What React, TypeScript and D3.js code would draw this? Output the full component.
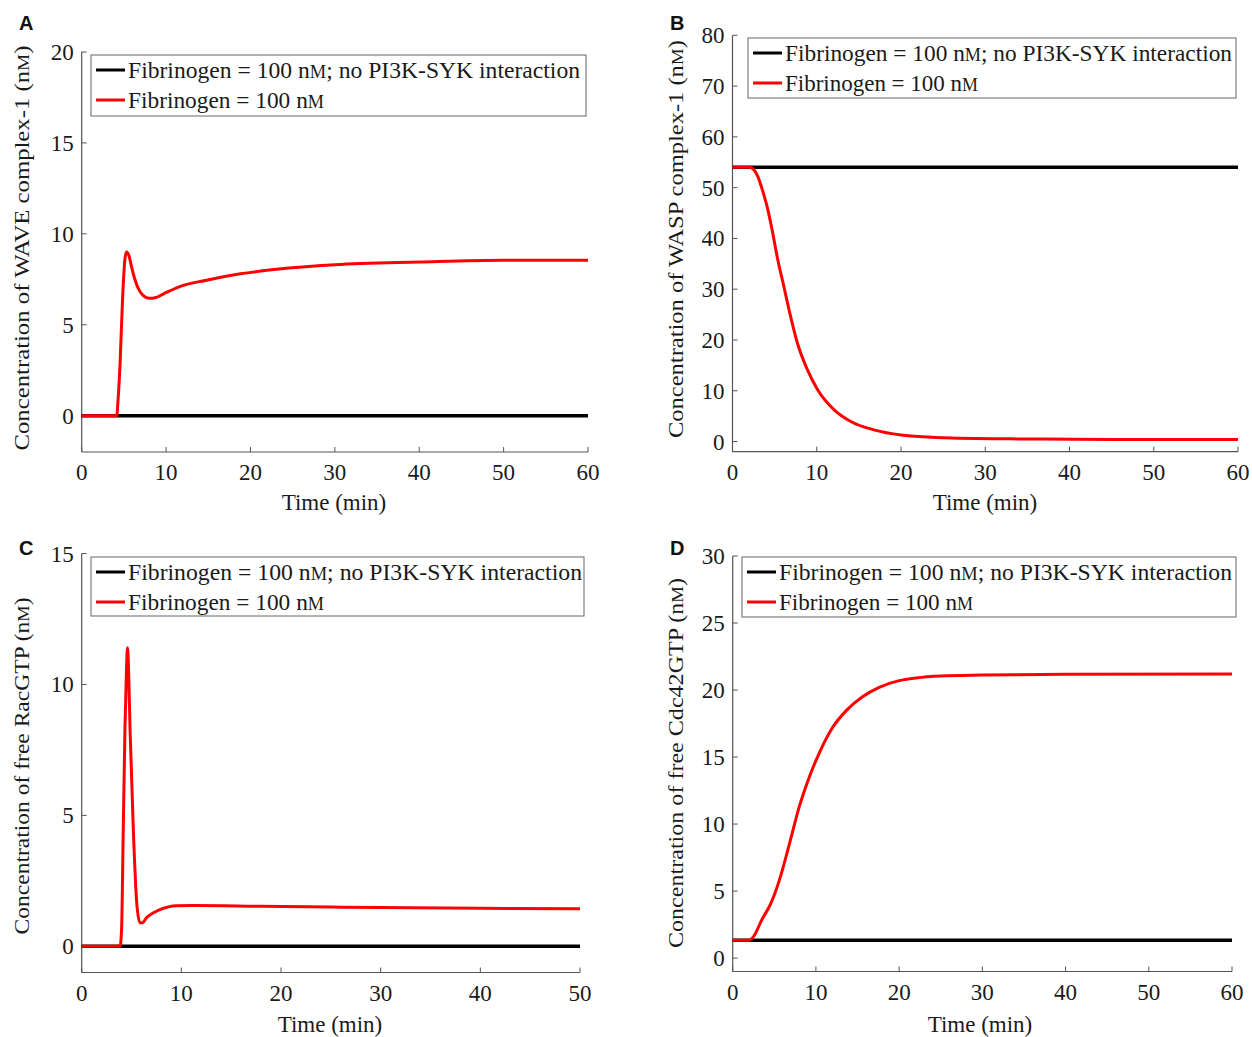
import React from "react";
import * as d3 from "d3";

// ---------- data ----------
const xTicks60 = [0, 10, 20, 30, 40, 50, 60];
const xTicks50 = [0, 10, 20, 30, 40, 50];
const yTicksA = [0, 5, 10, 15, 20];
const yTicksB = [0, 10, 20, 30, 40, 50, 60, 70, 80];
const yTicksC = [0, 5, 10, 15];
const yTicksD = [0, 5, 10, 15, 20, 25, 30];

const legendBlack = "Fibrinogen = 100 n";
const legendBlackTail = "; no PI3K-SYK interaction";
const legendRed = "Fibrinogen = 100 n";

// Panel A: WAVE complex-1
const blackTimeA = [0, 60];
const blackValA = [0, 0];
const redTimeA = [0, 4.15, 4.3, 4.55, 4.85, 5.1, 5.3, 5.6, 5.9, 6.3, 6.7, 7.3, 8.0, 8.8, 9.7, 11.6, 14.8, 18.8, 23.1, 30, 40, 50, 60];
const redValA = [0, 0, 0.8, 2.9, 6.5, 8.5, 9.0, 8.8, 8.2, 7.5, 7.0, 6.6, 6.45, 6.5, 6.7, 7.1, 7.45, 7.8, 8.05, 8.3, 8.45, 8.55, 8.55];

// Panel B: WASP complex-1
const blackTimeB = [0, 60];
const blackValB = [54, 54];
const redTimeB = [0, 2.0, 2.5, 3.0, 3.5, 4.1, 4.7, 5.3, 6.1, 6.9, 7.7, 8.9, 10.1, 12.1, 14.1, 16.8, 20, 26, 35, 45, 60];
const redValB = [54, 54, 53.6, 52.2, 49.8, 46.3, 41.7, 36.4, 30.5, 24.6, 19.4, 14.1, 10.2, 6.2, 3.9, 2.3, 1.3, 0.7, 0.5, 0.4, 0.4];

// Panel C: free RacGTP
const blackTimeC = [0, 50];
const blackValC = [0, 0];
const redTimeC = [0, 3.85, 4.0, 4.17, 4.34, 4.51, 4.6, 4.7, 4.85, 5.18, 5.52, 5.85, 6.1, 6.52, 7.2, 7.85, 9.5, 11.2, 17.9, 25, 30, 40, 50];
const redValC = [0, 0, 0.64, 4.45, 8.3, 10.8, 11.4, 10.6, 8.3, 4.45, 1.67, 0.9, 0.9, 1.1, 1.28, 1.4, 1.55, 1.56, 1.53, 1.5, 1.48, 1.45, 1.43];

// Panel D: free Cdc42GTP
const blackTimeD = [0, 60];
const blackValD = [1.34, 1.34];
const redTimeD = [0, 2.0, 2.6, 3.45, 4.6, 5.6, 6.85, 8.0, 9.2, 10.4, 12.0, 13.7, 15.6, 17.6, 20, 22, 25, 30, 40, 60];
const redValD = [1.34, 1.34, 1.7, 2.8, 4.1, 5.8, 8.6, 11.3, 13.5, 15.3, 17.2, 18.5, 19.5, 20.2, 20.7, 20.9, 21.05, 21.12, 21.18, 21.2];

const FONT = "'Liberation Serif', 'Times New Roman', serif";
const AXIS = "#555";
const TEXT = "#1a1a1a";
const RED = "#ff0000";

type PanelProps = {
  letter: string;
  letterPos: [number, number];
  xRange: [number, number];
  yRange: [number, number];
  xDomain: [number, number];
  yDomain: [number, number];
  xTicks: number[];
  yTicks: number[];
  blackT: number[];
  blackV: number[];
  redT: number[];
  redV: number[];
  legend: { x: number; y: number; w: number; h: number; textW: number; textW2: number };
  yLabel: string;
  yLabelPos: [number, number];
  yLabelLen: number;
  xLabelPos: [number, number];
};

function NM() {
  return <tspan fontSize="0.78em">M</tspan>;
}

function Panel(p: PanelProps) {
  const x = d3.scaleLinear().domain(p.xDomain).range(p.xRange);
  const y = d3.scaleLinear().domain(p.yDomain).range(p.yRange);
  const line = d3
    .line<[number, number]>()
    .x((d) => x(d[0]))
    .y((d) => y(d[1]))
    .curve(d3.curveMonotoneX);
  const blackPts = p.blackT.map((t, i) => [t, p.blackV[i]] as [number, number]);
  const redPts = p.redT.map((t, i) => [t, p.redV[i]] as [number, number]);
  const [x0, x1] = p.xRange;
  const [yb, yt] = p.yRange;
  const L = p.legend;
  const row1 = L.y + 15;
  const row2 = L.y + 45;
  return (
    <g>
      <text x={p.letterPos[0]} y={p.letterPos[1]} fontFamily="'Liberation Sans', Arial, sans-serif" fontWeight="bold" fontSize={20} fill="#111">
        {p.letter}
      </text>
      {/* axes */}
      <line x1={x0} x2={x0} y1={yb} y2={yt} stroke={AXIS} strokeWidth={1.2} />
      <line x1={x0} x2={x1} y1={yb} y2={yb} stroke={AXIS} strokeWidth={1.2} />
      {p.xTicks.map((t) => (
        <g key={"xt" + t}>
          <line x1={x(t)} x2={x(t)} y1={yb} y2={yb - 5} stroke={AXIS} strokeWidth={1} />
          <text x={x(t)} y={yb + 28} textAnchor="middle" fontFamily={FONT} fontSize={23} fill={TEXT}>
            {t}
          </text>
        </g>
      ))}
      {p.yTicks.map((t) => (
        <g key={"yt" + t}>
          <line x1={x0} x2={x0 + 5} y1={y(t)} y2={y(t)} stroke={AXIS} strokeWidth={1} />
          <text x={x0 - 8} y={y(t) + 8} textAnchor="end" fontFamily={FONT} fontSize={23} fill={TEXT}>
            {t}
          </text>
        </g>
      ))}
      {/* series */}
      <path d={line(blackPts) || ""} fill="none" stroke="#000" strokeWidth={3.5} />
      <path d={line(redPts) || ""} fill="none" stroke={RED} strokeWidth={3} strokeLinejoin="round" />
      {/* legend */}
      <rect x={L.x} y={L.y} width={L.w} height={L.h} fill="#fff" stroke="#666" strokeWidth={1} />
      <line x1={L.x + 5} x2={L.x + 34} y1={row1} y2={row1} stroke="#000" strokeWidth={3} />
      <line x1={L.x + 5} x2={L.x + 34} y1={row2} y2={row2} stroke={RED} strokeWidth={3} />
      <text x={L.x + 37} y={row1 + 7.5} fontFamily={FONT} fontSize={23} fill={TEXT} textLength={L.textW} lengthAdjust="spacingAndGlyphs">
        {legendBlack}
        <NM />
        {legendBlackTail}
      </text>
      <text x={L.x + 37} y={row2 + 7.5} fontFamily={FONT} fontSize={23} fill={TEXT} textLength={L.textW2} lengthAdjust="spacingAndGlyphs">
        {legendRed}
        <NM />
      </text>
      {/* labels */}
      <text
        transform={`translate(${p.yLabelPos[0]},${p.yLabelPos[1]}) rotate(-90)`}
        textAnchor="middle"
        fontFamily={FONT}
        fontSize={22}
        fill={TEXT}
        textLength={p.yLabelLen}
        lengthAdjust="spacingAndGlyphs"
      >
        {p.yLabel}
        <NM />
        {")"}
      </text>
      <text x={p.xLabelPos[0]} y={p.xLabelPos[1]} textAnchor="middle" fontFamily={FONT} fontSize={23} fill={TEXT}>
        Time (min)
      </text>
    </g>
  );
}

export default function App() {
  return (
    <svg width={1252} height={1037} style={{ position: "absolute", left: 0, top: 0, background: "#fff" }}>
      <Panel
        letter="A"
        letterPos={[19, 30]}
        xRange={[81.7, 588]}
        yRange={[452, 52]}
        xDomain={[0, 60]}
        yDomain={[-2, 20]}
        xTicks={xTicks60}
        yTicks={yTicksA}
        blackT={blackTimeA}
        blackV={blackValA}
        redT={redTimeA}
        redV={redValA}
        legend={{ x: 91, y: 55, w: 495, h: 61, textW: 452, textW2: 196 }}
        yLabel="Concentration of WAVE complex-1 (n"
        yLabelPos={[29, 248]}
        yLabelLen={405}
        xLabelPos={[334, 510]}
      />
      <Panel
        letter="B"
        letterPos={[670, 30]}
        xRange={[732.5, 1238]}
        yRange={[451.7, 35.3]}
        xDomain={[0, 60]}
        yDomain={[-2, 80]}
        xTicks={xTicks60}
        yTicks={yTicksB}
        blackT={blackTimeB}
        blackV={blackValB}
        redT={redTimeB}
        redV={redValB}
        legend={{ x: 748, y: 38, w: 488, h: 60, textW: 447, textW2: 193 }}
        yLabel="Concentration of WASP complex-1 (n"
        yLabelPos={[683, 239]}
        yLabelLen={398}
        xLabelPos={[985, 510]}
      />
      <Panel
        letter="C"
        letterPos={[19, 555]}
        xRange={[81.7, 580]}
        yRange={[972.5, 553.5]}
        xDomain={[0, 50]}
        yDomain={[-1, 15]}
        xTicks={xTicks50}
        yTicks={yTicksC}
        blackT={blackTimeC}
        blackV={blackValC}
        redT={redTimeC}
        redV={redValC}
        legend={{ x: 91, y: 557, w: 493, h: 59, textW: 454, textW2: 196 }}
        yLabel="Concentration of free RacGTP (n"
        yLabelPos={[29, 766]}
        yLabelLen={337}
        xLabelPos={[330, 1032]}
      />
      <Panel
        letter="D"
        letterPos={[670, 555]}
        xRange={[732.7, 1232]}
        yRange={[971.5, 556]}
        xDomain={[0, 60]}
        yDomain={[-1, 30]}
        xTicks={xTicks60}
        yTicks={yTicksD}
        blackT={blackTimeD}
        blackV={blackValD}
        redT={redTimeD}
        redV={redValD}
        legend={{ x: 742, y: 557, w: 494, h: 60, textW: 453, textW2: 194 }}
        yLabel="Concentration of free Cdc42GTP (n"
        yLabelPos={[683, 763]}
        yLabelLen={370}
        xLabelPos={[980, 1032]}
      />
    </svg>
  );
}
